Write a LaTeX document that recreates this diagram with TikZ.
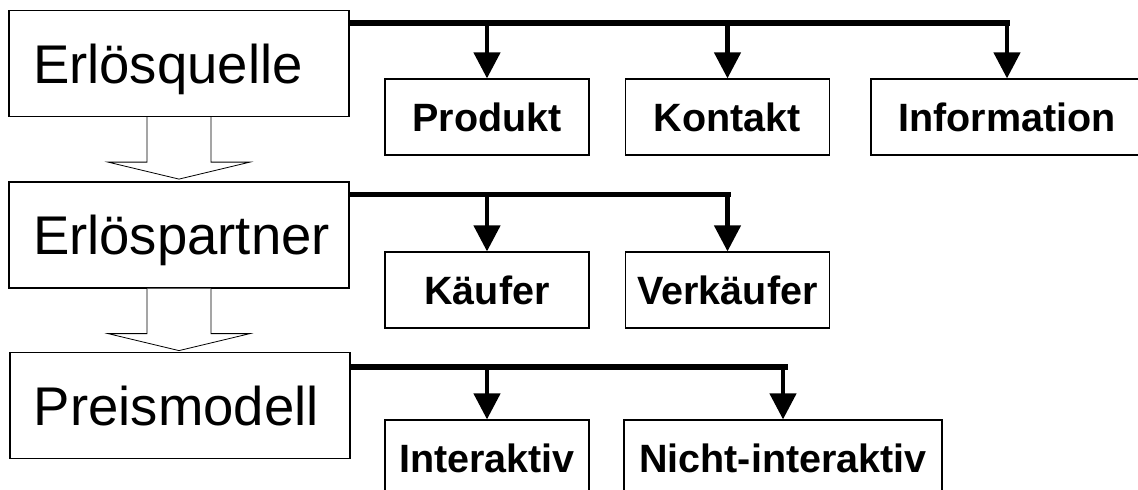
\documentclass[tikz,border=0pt]{standalone}
\usepackage{fontspec}
\setmainfont{Liberation Sans}
\usetikzlibrary{arrows.meta, positioning, calc}

\begin{document}
\begin{tikzpicture}[x=1pt, y=-1pt,
    mainbox/.style={draw, line width=1.2pt, minimum height=106pt, inner xsep=24pt,
        text width=292pt, align=left, text height=45pt, text depth=6pt,
        font=\fontsize{54.5}{60}\selectfont},
    subbox/.style={draw, line width=1.2pt, minimum width=204pt, minimum height=76pt,
        text height=31.5pt, text depth=3pt, inner xsep=2pt,
        font=\fontsize{39.5}{42}\selectfont\bfseries},
    down/.style={line width=4.5pt, -{Triangle[width=26pt, length=26pt]}},
    bus/.style={line width=5.5pt},
    hollow/.style={draw, fill=white, line width=0.8pt}]
    \clip (0,0) rectangle (1138,490);

    \node[mainbox] (quelle) at (179,63.5) {Erlösquelle};
    \node[mainbox] (partner) at (179,235) {Erlöspartner};
    \node[mainbox] (preis) at (180,405.5) {Preismodell};

    \node[subbox] (produkt) at (487,117) {Produkt};
    \node[subbox] (kontakt) at (727.5,117) {Kontakt};
    \node[subbox, minimum width=272pt] (info) at (1007,117) {Information};

    \node[subbox] (kaeufer) at (487,290) {Käufer};
    \node[subbox] (verkaeufer) at (727.5,290) {Verkäufer};

    \node[subbox] (inter) at (487,458) {Interaktiv};
    \node[subbox, minimum width=318pt] (nicht) at (783,458) {Nicht-interaktiv};

    \coordinate (b1) at ($(quelle.north east)+(0,13)$);
    \coordinate (b2) at ($(partner.north east)+(0,13)$);
    \coordinate (b3) at ($(preis.north east)+(0,15)$);

    \draw[bus] (b1) -- ($(info.north |- b1)+(3,0)$);
    \draw[down] (info.north |- b1) -- (info.north);
    \draw[down] (produkt.north |- b1) -- (produkt.north);
    \draw[down] (kontakt.north |- b1) -- (kontakt.north);

    \draw[bus] (b2) -- ($(verkaeufer.north |- b2)+(3,0)$);
    \draw[down] (verkaeufer.north |- b2) -- (verkaeufer.north);
    \draw[down] (kaeufer.north |- b2) -- (kaeufer.north);

    \draw[bus] (b3) -- ($(nicht.north |- b3)+(5,0)$);
    \draw[down] (nicht.north |- b3) -- (nicht.north);
    \draw[down] (inter.north |- b3) -- (inter.north);

    \draw[hollow] ($(quelle.south)+(-32,0)$) -- ++(0,45) -- ++(-39,0)
        -- ($(quelle.south)+(0,62)$) -- ++(71,-17) -- ++(-39,0) -- ++(0,-45);
    \draw[hollow] ($(partner.south)+(-32,0)$) -- ++(0,45) -- ++(-39,0)
        -- ($(partner.south)+(0,62)$) -- ++(71,-17) -- ++(-39,0) -- ++(0,-45);
\end{tikzpicture}
\end{document}
